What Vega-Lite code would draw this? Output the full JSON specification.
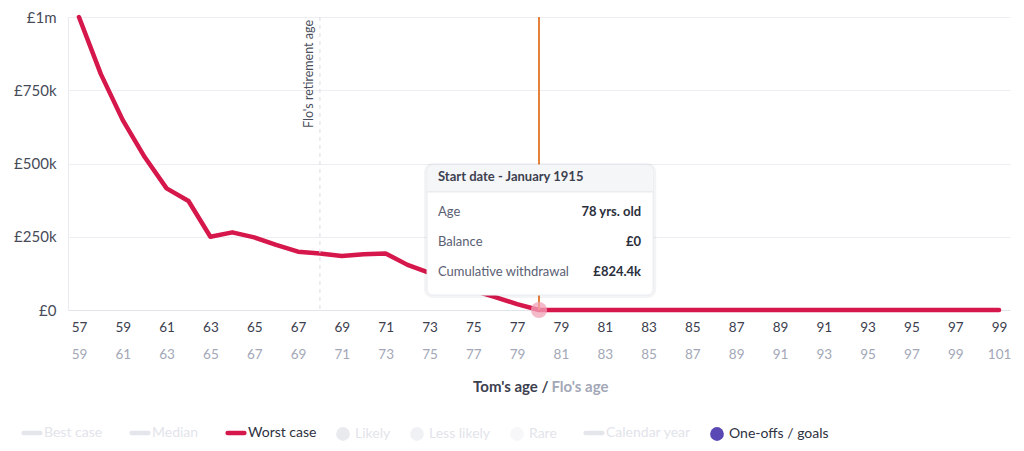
{
  "$schema": "https://vega.github.io/schema/vega-lite/v6.json",
  "width": 942,
  "height": 293,
  "autosize": {"type": "none"},
  "padding": {"left": 68, "top": 17, "right": 14, "bottom": 141},
  "config": {
    "font": "Lato",
    "view": {"stroke": null},
    "axis": {"labelFont": "Lato", "titleFont": "Lato", "ticks": false}
  },
  "datasets": {
    "balance": [
      {"tom_age": 57, "balance": 1000000, "series": "Worst case"},
      {"tom_age": 58, "balance": 805000, "series": "Worst case"},
      {"tom_age": 59, "balance": 648000, "series": "Worst case"},
      {"tom_age": 60, "balance": 522000, "series": "Worst case"},
      {"tom_age": 61, "balance": 415000, "series": "Worst case"},
      {"tom_age": 62, "balance": 372000, "series": "Worst case"},
      {"tom_age": 63, "balance": 250000, "series": "Worst case"},
      {"tom_age": 64, "balance": 265000, "series": "Worst case"},
      {"tom_age": 65, "balance": 248000, "series": "Worst case"},
      {"tom_age": 66, "balance": 222000, "series": "Worst case"},
      {"tom_age": 67, "balance": 199000, "series": "Worst case"},
      {"tom_age": 68, "balance": 193000, "series": "Worst case"},
      {"tom_age": 69, "balance": 184000, "series": "Worst case"},
      {"tom_age": 70, "balance": 190000, "series": "Worst case"},
      {"tom_age": 71, "balance": 193000, "series": "Worst case"},
      {"tom_age": 72, "balance": 154000, "series": "Worst case"},
      {"tom_age": 73, "balance": 127000, "series": "Worst case"},
      {"tom_age": 74, "balance": 96000, "series": "Worst case"},
      {"tom_age": 75, "balance": 66000, "series": "Worst case"},
      {"tom_age": 76, "balance": 44000, "series": "Worst case"},
      {"tom_age": 77, "balance": 20000, "series": "Worst case"},
      {"tom_age": 78, "balance": 0, "series": "Worst case"},
      {"tom_age": 79, "balance": 0, "series": "Worst case"},
      {"tom_age": 80, "balance": 0, "series": "Worst case"},
      {"tom_age": 81, "balance": 0, "series": "Worst case"},
      {"tom_age": 82, "balance": 0, "series": "Worst case"},
      {"tom_age": 83, "balance": 0, "series": "Worst case"},
      {"tom_age": 84, "balance": 0, "series": "Worst case"},
      {"tom_age": 85, "balance": 0, "series": "Worst case"},
      {"tom_age": 86, "balance": 0, "series": "Worst case"},
      {"tom_age": 87, "balance": 0, "series": "Worst case"},
      {"tom_age": 88, "balance": 0, "series": "Worst case"},
      {"tom_age": 89, "balance": 0, "series": "Worst case"},
      {"tom_age": 90, "balance": 0, "series": "Worst case"},
      {"tom_age": 91, "balance": 0, "series": "Worst case"},
      {"tom_age": 92, "balance": 0, "series": "Worst case"},
      {"tom_age": 93, "balance": 0, "series": "Worst case"},
      {"tom_age": 94, "balance": 0, "series": "Worst case"},
      {"tom_age": 95, "balance": 0, "series": "Worst case"},
      {"tom_age": 96, "balance": 0, "series": "Worst case"},
      {"tom_age": 97, "balance": 0, "series": "Worst case"},
      {"tom_age": 98, "balance": 0, "series": "Worst case"},
      {"tom_age": 99, "balance": 0, "series": "Worst case"}
    ]
  },
  "layer": [
    {
      "mark": {"type": "line", "strokeWidth": 4.5, "strokeJoin": "round", "strokeCap": "round"},
      "encoding": {
        "x": {
          "field": "tom_age",
          "type": "quantitative",
          "scale": {"domain": [56.5, 99.5], "nice": false, "zero": false},
          "axis": {
            "orient": "bottom",
            "values": [57, 59, 61, 63, 65, 67, 69, 71, 73, 75, 77, 79, 81, 83, 85, 87, 89, 91, 93, 95, 97, 99],
            "domain": true,
            "domainColor": "#e1e4ea",
            "grid": false,
            "labelColor": "#3c404e",
            "labelFontSize": 13.5,
            "labelPadding": 10,
            "title": "Tom's age /",
            "titleColor": "#3c404e",
            "titleFontSize": 15,
            "titleFontWeight": "bold",
            "titleAlign": "right",
            "titleBaseline": "middle",
            "titleX": 480,
            "titleY": 76
          }
        },
        "y": {
          "field": "balance",
          "type": "quantitative",
          "scale": {"domain": [0, 1000000], "nice": false},
          "axis": {
            "values": [0, 250000, 500000, 750000, 1000000],
            "labelExpr": "datum.value == 0 ? '£0' : datum.value >= 1000000 ? '£1m' : '£' + (datum.value / 1000) + 'k'",
            "domain": true,
            "domainColor": "#e8eaef",
            "grid": true,
            "gridColor": "#eceef2",
            "labelColor": "#474b59",
            "labelFontSize": 15,
            "labelPadding": 12,
            "title": null
          }
        },
        "color": {
          "field": "series",
          "type": "nominal",
          "scale": {
            "domain": ["Best case", "Median", "Worst case", "Likely", "Less likely", "Rare", "Calendar year", "One-offs / goals"],
            "range": ["#e4e6eb", "#e4e6eb", "#d6174b", "#e9eaee", "#f0f1f4", "#f7f7f9", "#e4e6eb", "#5a48b5"]
          },
          "legend": {
            "orient": "none",
            "legendX": -43,
            "legendY": 409,
            "direction": "horizontal",
            "title": null,
            "labelFont": "Lato",
            "labelFontSize": 14,
            "labelOffset": 5,
            "columnPadding": 19,
            "symbolSize": 280,
            "symbolStrokeWidth": 4.5,
            "encode": {
              "symbols": {
                "update": {
                  "shape": {"signal": "indexof(['Likely', 'Less likely', 'Rare', 'One-offs / goals'], datum.value) >= 0 ? 'circle' : 'stroke'"},
                  "size": {"signal": "indexof(['Likely', 'Less likely', 'Rare', 'One-offs / goals'], datum.value) >= 0 ? 190 : 280"},
                  "fill": {"signal": "indexof(['Likely', 'Less likely', 'Rare', 'One-offs / goals'], datum.value) >= 0 ? scale('color', datum.value) : 'transparent'"},
                  "strokeWidth": {"signal": "indexof(['Likely', 'Less likely', 'Rare', 'One-offs / goals'], datum.value) >= 0 ? 0 : 4.5"},
                  "strokeCap": {"value": "round"},
                  "opacity": {"value": 1}
                }
              },
              "labels": {
                "update": {
                  "fill": {"signal": "datum.value == 'Worst case' || datum.value == 'One-offs / goals' ? '#2e3241' : '#e2e4ea'"}
                }
              }
            }
          }
        }
      }
    },
    {
      "data": {"values": [{}]},
      "mark": {"type": "rule", "color": "#d9dce3", "strokeDash": [4, 4], "strokeWidth": 1},
      "encoding": {
        "x": {
          "datum": 68,
          "type": "quantitative",
          "axis": {
            "orient": "bottom",
            "values": [57, 59, 61, 63, 65, 67, 69, 71, 73, 75, 77, 79, 81, 83, 85, 87, 89, 91, 93, 95, 97, 99],
            "labelExpr": "datum.value + 2",
            "offset": 27,
            "domain": false,
            "grid": false,
            "labelColor": "#a3a7b7",
            "labelFontSize": 13.5,
            "labelPadding": 10,
            "title": "Flo's age",
            "titleColor": "#a3a7b7",
            "titleFontSize": 15,
            "titleFontWeight": "bold",
            "titleAlign": "left",
            "titleBaseline": "middle",
            "titleX": 483,
            "titleY": 49
          }
        }
      }
    },
    {
      "data": {"values": [{}]},
      "mark": {"type": "text", "text": "Flo's retirement age", "angle": -90, "align": "right", "baseline": "bottom", "dx": -3, "dy": -4, "fontSize": 12.5, "color": "#4a4f5d"},
      "encoding": {
        "x": {"datum": 68, "type": "quantitative", "axis": null},
        "y": {"datum": 1000000, "type": "quantitative"}
      }
    },
    {
      "data": {"values": [{}]},
      "mark": {"type": "rule", "color": "#e5813d", "strokeWidth": 2},
      "encoding": {
        "x": {"datum": 78, "type": "quantitative", "axis": null}
      }
    },
    {
      "data": {"values": [{}]},
      "mark": {"type": "point", "filled": true, "size": 260, "color": "#f2a3b8", "opacity": 0.75},
      "encoding": {
        "x": {"datum": 78, "type": "quantitative", "axis": null},
        "y": {"datum": 0, "type": "quantitative"}
      }
    },
    {
      "data": {"values": [{}]},
      "mark": {"type": "rect", "color": "#1d2233", "opacity": 0.05, "cornerRadius": 9},
      "encoding": {
        "x": {"datum": 72.75, "type": "quantitative", "axis": null},
        "x2": {"datum": 83.35},
        "y": {"datum": 502000, "type": "quantitative"},
        "y2": {"datum": 41000}
      }
    },
    {
      "data": {"values": [{}]},
      "mark": {"type": "rect", "color": "#ffffff", "stroke": "#e9ebf0", "strokeWidth": 1, "cornerRadius": 6},
      "encoding": {
        "x": {"datum": 72.89, "type": "quantitative", "axis": null},
        "x2": {"datum": 83.21},
        "y": {"datum": 495000, "type": "quantitative"},
        "y2": {"datum": 51000}
      }
    },
    {
      "data": {"values": [{}]},
      "mark": {"type": "rect", "color": "#f5f6f8", "cornerRadiusTopLeft": 6, "cornerRadiusTopRight": 6},
      "encoding": {
        "x": {"datum": 72.93, "type": "quantitative", "axis": null},
        "x2": {"datum": 83.17},
        "y": {"datum": 494000, "type": "quantitative"},
        "y2": {"datum": 403000}
      }
    },
    {
      "data": {"values": [{}]},
      "mark": {"type": "rule", "color": "#e4e6eb", "strokeWidth": 1},
      "encoding": {
        "x": {"datum": 72.89, "type": "quantitative", "axis": null},
        "x2": {"datum": 83.21},
        "y": {"datum": 403000, "type": "quantitative"}
      }
    },
    {
      "data": {"values": [{}]},
      "mark": {"type": "text", "text": "Start date - January 1915", "align": "left", "baseline": "middle", "fontSize": 13, "fontWeight": "bold", "color": "#3d4150"},
      "encoding": {
        "x": {"datum": 73.39, "type": "quantitative", "axis": null},
        "y": {"datum": 454000, "type": "quantitative"}
      }
    },
    {
      "data": {"values": [{}]},
      "mark": {"type": "text", "text": ["Age", "Balance", "Cumulative withdrawal"], "lineHeight": 30, "align": "left", "baseline": "middle", "fontSize": 13, "color": "#5a6073"},
      "encoding": {
        "x": {"datum": 73.39, "type": "quantitative", "axis": null},
        "y": {"datum": 334500, "type": "quantitative"}
      }
    },
    {
      "data": {"values": [{}]},
      "mark": {"type": "text", "text": ["78 yrs. old", "£0", "£824.4k"], "lineHeight": 30, "align": "right", "baseline": "middle", "fontSize": 13, "fontWeight": "bold", "color": "#2b2f3c"},
      "encoding": {
        "x": {"datum": 82.66, "type": "quantitative", "axis": null},
        "y": {"datum": 334500, "type": "quantitative"}
      }
    }
  ],
  "data": {"name": "balance"},
  "resolve": {"axis": {"x": "independent"}}
}
